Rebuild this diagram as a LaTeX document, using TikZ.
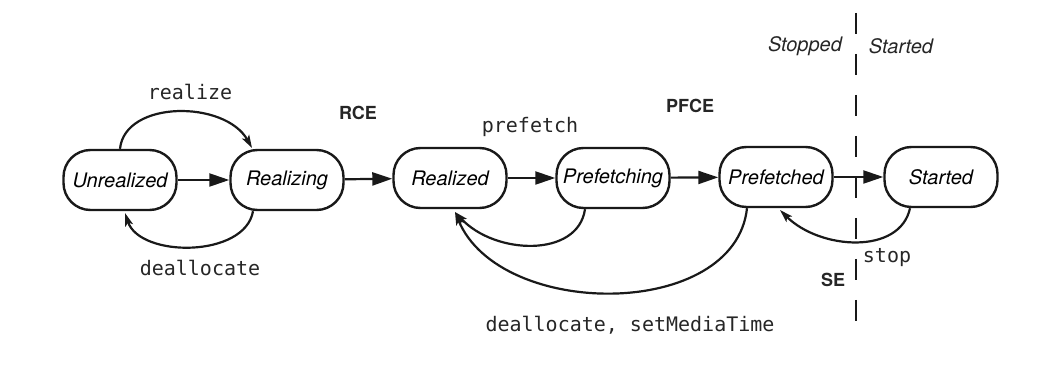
\documentclass[tikz,border=0pt]{standalone}
\usepackage{fontspec}
\setsansfont{TeX Gyre Heros}
\setmonofont{DejaVu Sans Mono}
\usetikzlibrary{arrows.meta}
\begin{document}
\begin{tikzpicture}[x=1pt,y=-1pt,
  state/.style={draw=black!90,line width=2.4pt,rounded corners=27pt,minimum width=113pt,minimum height=60pt,inner sep=0pt,font=\fontsize{20}{22}\selectfont\sffamily\itshape},
  straight/.style={line width=2.2pt,draw=black!90,-{Triangle[length=20pt,width=13pt]}},
  curved/.style={line width=2.2pt,draw=black!90,-{Stealth[length=13pt,width=8pt,inset=3pt]}},
  mono/.style={font=\fontsize{20}{22}\selectfont\ttfamily,text=black!85},
  bold/.style={font=\fontsize{18}{20}\selectfont\sffamily\bfseries,text=black!85},
  ital/.style={font=\fontsize{20}{22}\selectfont\sffamily\itshape,text=black!85}]
\useasboundingbox (0,0) rectangle (1042,371);
\node[state] (U) at (120,180) {Unrealized};
\node[state] (Rz) at (287,180) {Realizing};
\node[state] (Rd) at (450,178) {Realized};
\node[state] (Pg) at (613,178) {Prefetching};
\node[state] (Pd) at (776,177) {Prefetched};
\node[state] (S) at (941,177) {Started};

\coordinate (dtop) at (856,13);
\coordinate (dbot) at (856,322);
\draw[line width=2.6pt,draw=black!90,dash pattern=on 21pt off 20pt] (dtop) -- (dbot);

\draw[straight] (U) -- (Rz);
\draw[straight] (Rz) -- (Rd);
\draw[straight] (Rd) -- (Pg);
\draw[straight] (Pg) -- (Pd);
\draw[straight] (Pd) -- (S);

\coordinate (rzin) at (252,148);
\coordinate (uin) at (125,213);
\coordinate (rdin) at (455,212);
\coordinate (pdin) at (780,210);
\draw[curved] ([xshift=0pt]U.north) .. controls (125,100) and (225,100) .. (rzin);
\draw[curved] ([xshift=-34pt]Rz.south) .. controls (245,258) and (140,258) .. (uin);
\draw[curved] ([xshift=-28pt]Pg.south) .. controls (578,258) and (495,255) .. (rdin);
\draw[curved] ([xshift=-29pt]Pd.south) .. controls (735,320) and (500,320) .. (rdin);
\draw[curved] ([xshift=-31pt]S.south) .. controls (900,255) and (820,250) .. (pdin);

\node[mono] (l1) at (190,92) {realize};
\node[mono] (l2) at (200,268) {deallocate};
\node[bold] (l3) at (358,113) {RCE};
\node[mono] (l4) at (530,127) {prefetch};
\node[bold] (l5) at (690,106) {PFCE};
\node[ital] (l6) at (805,46) {Stopped};
\node[ital] (l7) at (901,46) {Started};
\node[mono] (l8) at (887,258) {stop};
\node[bold] (l9) at (833,280) {SE};
\node[mono] (l10) at (630,325) {deallocate, setMediaTime};
\end{tikzpicture}
\end{document}
